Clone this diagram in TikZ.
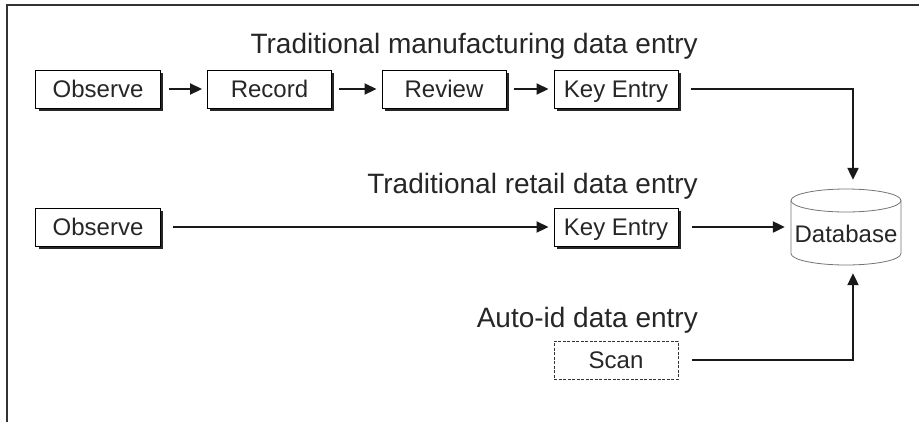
\documentclass[tikz,border=0pt]{standalone}
\usepackage{fontspec}
\setmainfont{Liberation Sans}
\usetikzlibrary{arrows.meta,shadows}
\begin{document}
\begin{tikzpicture}[x=1bp,y=-1bp,
  boxfont/.style={font=\fontsize{24bp}{28bp}\selectfont, text=black!85, text height=17.2bp, text depth=0pt},
  box/.style={boxfont, draw=black, line width=1bp, fill=white,
    minimum width=124bp, minimum height=38bp, inner sep=0pt,
    drop shadow={shadow xshift=2.8bp, shadow yshift=-2.8bp, fill=black!85, opacity=1}},
  dbox/.style={boxfont, draw=black!80, dash pattern=on 3bp off 1.5bp, line width=1bp,
    fill=white, minimum width=124bp, minimum height=38bp, inner sep=0pt},
  dbframe/.style={minimum width=110bp, minimum height=76bp, inner sep=0pt},
  cyl/.style={draw=black!55, line width=0.8bp},
  title/.style={font=\fontsize{28bp}{32bp}\selectfont, text=black!85, inner sep=0pt},
  conn/.style={line width=2.2bp, draw=black!90},
  arr/.style={conn, -{Triangle[length=12bp,width=11bp]}},
  frame/.style={line width=1.5bp, draw=black!80}]
\useasboundingbox (0,0) rectangle (919,422);
\draw[frame] (7,422) -- (7,5) -- (919,5);

% titles
\node[title, anchor=base east] (t1) at (698,53) {Traditional manufacturing data entry};
\node[title, anchor=base east] (t2) at (698,193) {Traditional retail data entry};
\node[title, anchor=base east] (t3) at (698,327) {Auto-id data entry};

% boxes
\node[box] (obs1) at (98,89) {Observe};
\node[box] (rec) at (269.5,89) {Record};
\node[box] (rev) at (444,89) {Review};
\node[box] (ke1) at (616,89) {Key Entry};
\node[box] (obs2) at (98,227) {Observe};
\node[box] (ke2) at (616,227) {Key Entry};
\node[dbox] (scan) at (616,360) {Scan};

% database
\node[dbframe] (db) at (846,227) {};
\draw[cyl] (846,200.5) ellipse [x radius=55, y radius=11.5];
\draw[cyl] (791,200.5) -- (791,253.5) arc[start angle=180, end angle=0, x radius=55, y radius=11.5] -- (901,200.5);
\node[boxfont, inner sep=0pt] (dbt) at (846,233.5) {Database};

% connectors
\draw[arr] ([xshift=8bp]obs1.east) -- ([xshift=-5bp]rec.west);
\draw[arr] ([xshift=7bp]rec.east) -- ([xshift=-5bp]rev.west);
\draw[arr] ([xshift=7bp]rev.east) -- ([xshift=-5bp]ke1.west);
\draw[arr] ([xshift=12bp]ke1.east) -| ([xshift=7bp,yshift=9bp]db.north);
\draw[arr] ([xshift=12bp]obs2.east) -- ([xshift=-5bp]ke2.west);
\draw[arr] ([xshift=13bp]ke2.east) -- ([xshift=-6bp]db.west);
\draw[arr] ([xshift=13bp]scan.east) -| ([xshift=7bp,yshift=-8bp]db.south);
\end{tikzpicture}
\end{document}
